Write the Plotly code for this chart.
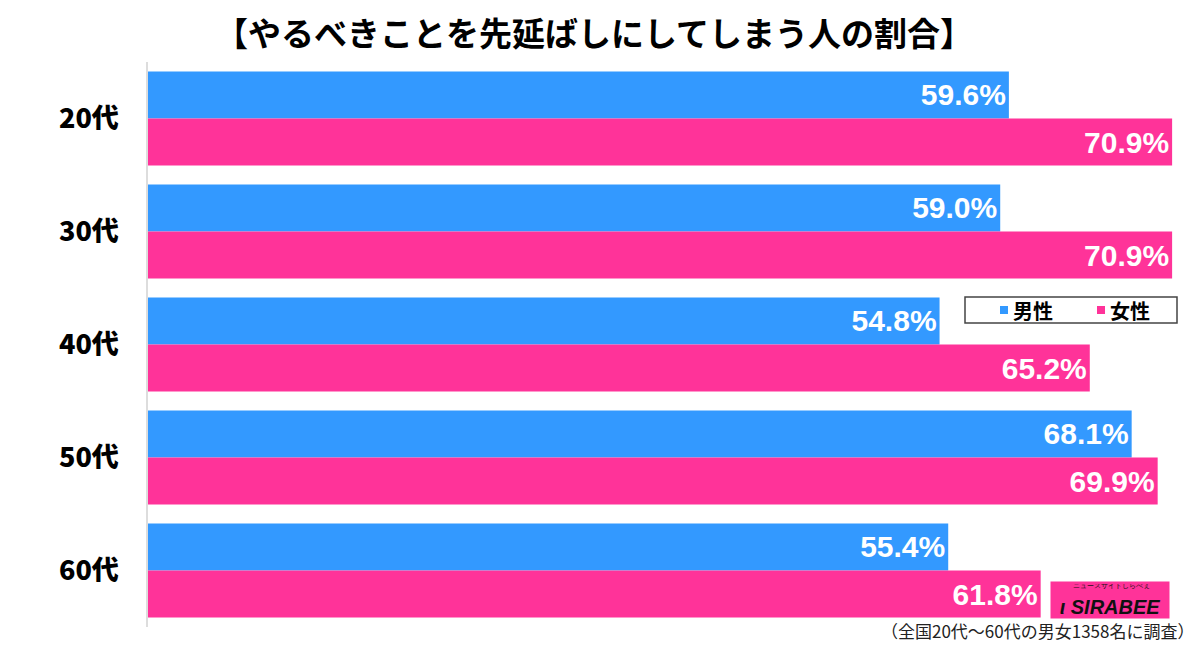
import plotly.graph_objects as go

# 年代ごとの割合（%）
ages = ["20代", "30代", "40代", "50代", "60代"]
male = [59.6, 59.0, 54.8, 68.1, 55.4]
female = [70.9, 70.9, 65.2, 69.9, 61.8]
series_names = ["男性", "女性"]

title_text = "【やるべきことを先延ばしにしてしまう人の割合】"
note_text = "（全国20代～60代の男女1358名に調査）"

blue = "#3399FF"
pink = "#FF3399"
num_font = "Liberation Sans, Arial, sans-serif"
jp_font = "Noto Sans CJK JP, sans-serif"

W, H = 1200, 658
L, R, T, B = 148, 12, 62, 31


def px(x):
    return (x - L) / (W - L - R)


def py(y):
    return (H - B - y) / (H - T - B)


fig = go.Figure()
for name, vals, col in [(series_names[0], male, blue), (series_names[1], female, pink)]:
    fig.add_trace(go.Bar(
        y=ages, x=vals, orientation="h", name=name,
        marker=dict(color=col, line=dict(width=0)),
        text=[f"{v:.1f}%" for v in vals],
        textposition="inside", insidetextanchor="end",
        textfont=dict(color="white", size=30, family=num_font, weight="bold"),
        showlegend=False,
    ))

fig.update_layout(
    width=W, height=H,
    margin=dict(l=L, r=R, t=T, b=B, autoexpand=False),
    paper_bgcolor="white", plot_bgcolor="white",
    barmode="group", bargap=0.168, bargroupgap=0,
    title=dict(text=f"<b>{title_text}</b>", x=0.495, xanchor="center",
               y=0.947, yanchor="middle",
               font=dict(family=jp_font, size=33, color="black", weight=900)),
    uniformtext=dict(mode="show", minsize=10),
)
fig.update_xaxes(range=[0, 72], visible=False, showgrid=False)
fig.update_yaxes(autorange="reversed", showline=True, linecolor="#dddddd", linewidth=1.5,
                 ticks="", ticklabelstandoff=22,
                 tickfont=dict(family=jp_font, size=27, color="black", weight=900),
                 showgrid=False)

# 凡例（枠・色見本・文字）
fig.add_shape(type="rect", xref="paper", yref="paper",
              x0=px(965), x1=px(1177), y0=py(323), y1=py(297),
              fillcolor="white", line=dict(color="#444", width=1.5), layer="above")
for sx, name, col in [(1000, series_names[0], blue), (1097, series_names[1], pink)]:
    fig.add_shape(type="rect", xref="paper", yref="paper",
                  x0=px(sx), x1=px(sx + 8), y0=py(314), y1=py(306),
                  fillcolor=col, line=dict(width=0), layer="above")
    fig.add_annotation(xref="paper", yref="paper", x=px(sx + 11), y=py(310),
                       xanchor="left", yanchor="middle", showarrow=False,
                       text=f"<b>{name}</b>",
                       font=dict(family=jp_font, size=20, color="black"))

# ロゴ
fig.add_annotation(xref="paper", yref="paper", x=px(1170), y=py(619),
                   xanchor="right", yanchor="bottom", showarrow=False,
                   width=114, height=32, bgcolor=pink, borderpad=2, align="center",
                   text="<span style='font-size:7px'>  ニュースサイトしらべぇ</span><br>"
                        "<b><i>ι SIRABEE</i></b>",
                   font=dict(family=num_font, size=20, color="#111"))

# 注記
fig.add_annotation(xref="paper", yref="paper", x=1, y=py(630), xanchor="right", yanchor="middle",
                   xshift=8, showarrow=False, text=note_text,
                   font=dict(family=jp_font, size=17, color="#222"))

fig.write_html("out.html", config={"displayModeBar": False},
               post_script="document.body.style.margin='0px';")
